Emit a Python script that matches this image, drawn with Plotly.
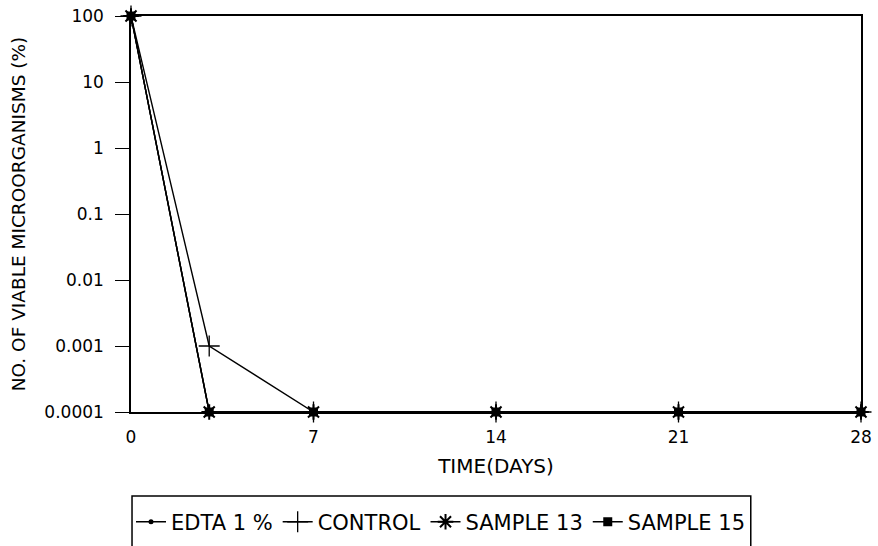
import plotly.graph_objects as go

days = [0, 3, 7, 14, 21, 28]
edta = [100, 0.0001, 0.0001, 0.0001, 0.0001, 0.0001]
control = [100, 0.001, 0.0001, 0.0001, 0.0001, 0.0001]
sample13 = [100, 0.0001, 0.0001, 0.0001, 0.0001, 0.0001]
sample15 = [100, 0.0001, 0.0001, 0.0001, 0.0001, 0.0001]
x_ticks = [0, 7, 14, 21, 28]
y_ticks = [0.0001, 0.001, 0.01, 0.1, 1, 10, 100]
y_labels = ["0.0001", "0.001", "0.01", "0.1", "1", "10", "100"]

FONT = "DejaVu Sans, Liberation Sans, Arial, sans-serif"

fig = go.Figure()
series = [
    ("EDTA 1 %", edta, dict(symbol="circle", size=5, color="black")),
    ("CONTROL", control, dict(symbol="cross-thin", size=15, color="black", line=dict(color="black", width=1.3))),
    ("SAMPLE 13", sample13, dict(symbol="asterisk", size=13, color="black", line=dict(color="black", width=2))),
    ("SAMPLE 15", sample15, dict(symbol="square", size=9, color="black")),
]
for name, vals, mk in series:
    fig.add_trace(go.Scatter(x=days, y=vals, name=name, mode="lines+markers",
                             line=dict(color="black", width=1.4), marker=mk, cliponaxis=False))

# legend frame (box extends below the visible page, as in the reference)
fig.add_shape(type="rect", xref="paper", yref="paper",
              x0=0.0014, x1=0.849, y0=-0.212, y1=-0.40,
              line=dict(color="black", width=1.5), fillcolor="rgba(0,0,0,0)")

fig.update_layout(
    width=878, height=546,
    margin=dict(l=131, r=17, t=16, b=134, autoexpand=False),
    paper_bgcolor="white", plot_bgcolor="white",
    font=dict(family=FONT, size=16, color="black"),
    showlegend=True,
    legend=dict(orientation="h", x=0.0, xanchor="left", y=-0.278, yanchor="middle",
                borderwidth=0, font=dict(size=21, family=FONT), bgcolor="rgba(0,0,0,0)",
                itemwidth=30, tracegroupgap=0),
    xaxis=dict(range=[0, 28], tickvals=x_ticks, ticks="", showgrid=False, zeroline=False,
               showline=True, linecolor="black", linewidth=1.5, mirror=True, automargin=False,
               ticklabelstandoff=9,
               title=dict(text="TIME(DAYS)", font=dict(size=20), standoff=13),
               tickfont=dict(size=17)),
    yaxis=dict(type="log", range=[-4, 2], tickvals=y_ticks, ticktext=y_labels,
               ticks="outside", ticklen=14, tickcolor="black", tickwidth=1.2,
               showgrid=False, zeroline=False, automargin=False, ticklabelstandoff=8,
               showline=True, linecolor="black", linewidth=1.5, mirror=True,
               title=dict(text="NO. OF VIABLE MICROORGANISMS (%)", font=dict(size=18.5), standoff=14),
               tickfont=dict(size=17)),
)

fig.write_html("out.html", config={"displayModeBar": False},
               post_script="document.body.style.margin='0';document.body.style.overflow='hidden';")
